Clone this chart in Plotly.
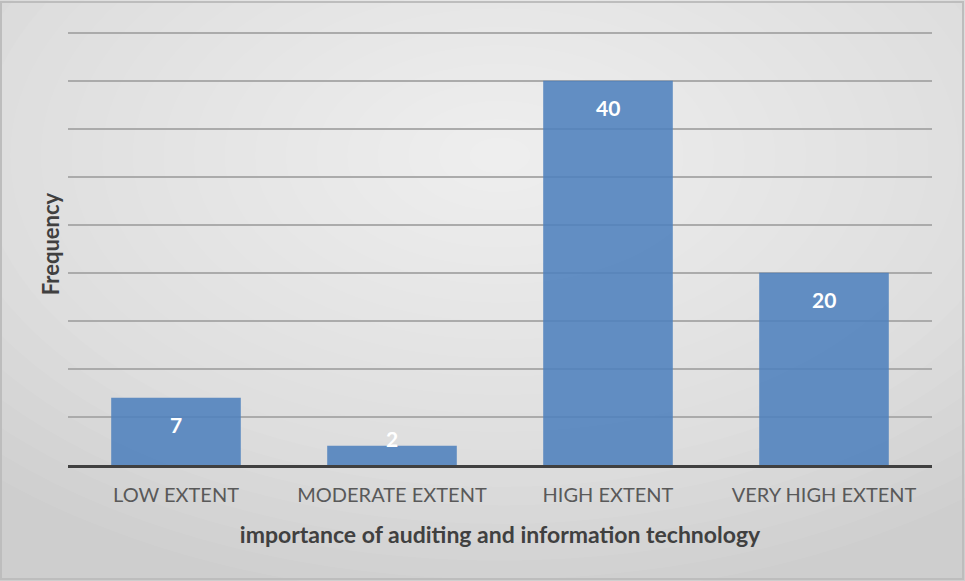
import plotly.graph_objects as go

categories = ["LOW EXTENT", "MODERATE EXTENT", "HIGH EXTENT", "VERY HIGH EXTENT"]
frequency = [7, 2, 40, 20]
x_title = "importance of auditing and information technology"
y_title = "Frequency"

Y_MAX = 46
FONT = "Lato"
T, B = 23, 116

fig = go.Figure()
fig.add_trace(go.Bar(
    x=categories, y=frequency,
    marker=dict(color="#4F81BD", opacity=0.88, line=dict(width=0)),
    hoverinfo="skip",
))

# data labels (Excel "inside end" style)
plot_h = 581 - T - B
px_per_unit = plot_h / Y_MAX
for c, v in zip(categories, frequency):
    shift = -27 if v * px_per_unit > 45 else 7
    fig.add_annotation(x=c, y=v, text=f"<b>{v}</b>", showarrow=False,
                       yshift=shift, font=dict(family=FONT, size=21, color="white"))

# radial-like gradient background
shapes = []
N = 24
for i in range(N):
    f = 1 - i / N
    rx, ry = 0.85 * f, 1.0 * f
    cx, cy = 0.5, 0.7
    shapes.append(dict(type="circle", xref="paper", yref="paper",
                       x0=cx - rx, x1=cx + rx, y0=cy - ry, y1=cy + ry,
                       fillcolor="white", opacity=0.06, line=dict(width=0),
                       layer="below"))
fig.update_layout(shapes=shapes)
# outer frame
fig.add_shape(type="rect", xref="paper", yref="paper", x0=-67/864, x1=1 + 31/864,
              y0=-(B - 2)/plot_h, y1=1 + (T - 2)/plot_h, line=dict(color="#BDBDBD", width=2),
              layer="above")

fig.update_layout(
    width=965, height=581,
    margin=dict(l=68, r=33, t=T, b=B),
    paper_bgcolor="#CECECE",
    plot_bgcolor="rgba(0,0,0,0)",
    bargap=0.4,
    showlegend=False,
    font=dict(family=FONT),
    xaxis=dict(
        type="category",
        showgrid=False, showline=True, linecolor="#404040", linewidth=3,
        ticks="", tickfont=dict(family=FONT, size=20, color="#595959"),
        ticklabelstandoff=10,
        title=dict(text=f"<b>{x_title}</b>", font=dict(family=FONT, size=23, color="#404040"),
                   standoff=22),
        automargin=False,
    ),
    yaxis=dict(
        range=[0, Y_MAX], tickmode="linear", tick0=0, dtick=5,
        showticklabels=False, ticks="",
        showgrid=True, gridcolor="#ABABAB", gridwidth=2,
        zeroline=False, showline=False,
        title=dict(text=f"<b>{y_title}</b>", font=dict(family=FONT, size=22, color="#404040"),
                   standoff=1),
        automargin=False,
    ),
)

fig.write_html("out.html")
